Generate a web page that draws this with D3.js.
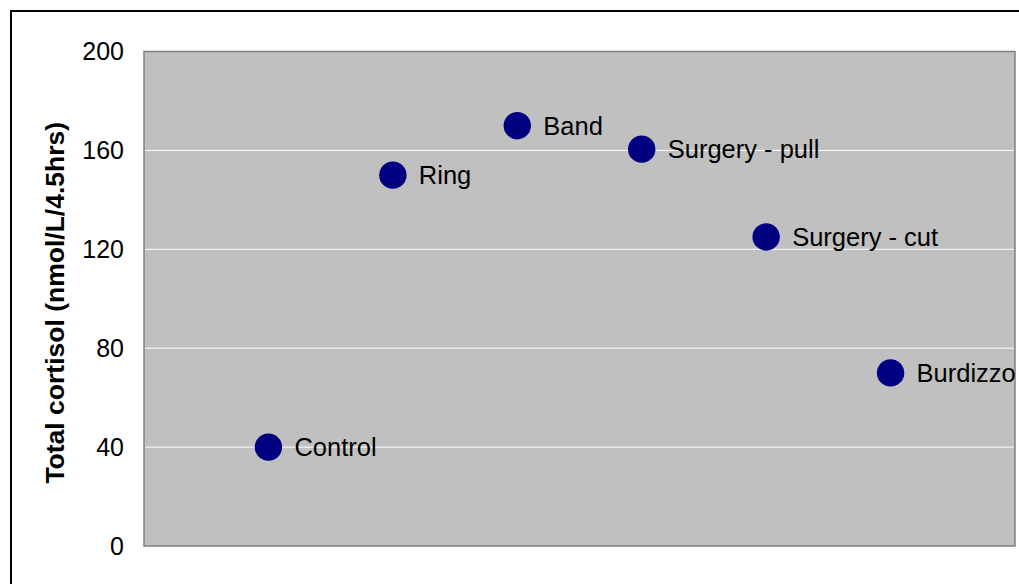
<!DOCTYPE html>
<html>
<head>
<meta charset="utf-8">
<script src="https://cdn.jsdelivr.net/npm/d3@7"></script>
<style>
  body { margin: 0; background: #fff; }
  svg { display: block; font-family: "Liberation Sans", Arial, sans-serif; }
</style>
</head>
<body>
<svg id="canvas" width="1019" height="584"></svg>
<script>
const groups = ['Control', 'Ring', 'Band', 'Surgery - pull', 'Surgery - cut', 'Burdizzo']
const cortisol = [40, 150, 170, 160.5, 125, 70]
const yTicks = [0, 40, 80, 120, 160, 200]

const svg = d3.select('#canvas')
const plotLeft = 144, plotRight = 1015, plotTop = 51.5, plotBottom = 546

// outer chart border
svg.append('rect')
    .attr('x', 11).attr('y', 11)
    .attr('width', 1030).attr('height', 600)
    .attr('fill', 'none')
    .attr('stroke', '#000')
    .attr('stroke-width', 2)

const x = d3.scaleLinear().domain([0, groups.length + 1]).range([plotLeft, plotRight])
const y = d3.scaleLinear().domain([0, 200]).range([plotBottom, plotTop])

svg.append('rect')
    .attr('x', plotLeft).attr('y', plotTop)
    .attr('width', plotRight - plotLeft).attr('height', plotBottom - plotTop)
    .attr('fill', '#c0c0c0')
    .attr('stroke', '#808080')
    .attr('stroke-width', 1.5)

// gridlines
svg.append('g').selectAll('line')
    .data(yTicks.filter(t => t > 0 && t < 200))
    .enter().append('line')
    .attr('x1', plotLeft + 1).attr('x2', plotRight - 1)
    .attr('y1', d => y(d)).attr('y2', d => y(d))
    .attr('stroke', '#fff')
    .attr('stroke-width', 1)

const yAxis = svg.append('g')
    .attr('transform', `translate(${plotLeft},0)`)
    .call(d3.axisLeft(y).tickValues(yTicks).tickSize(0).tickPadding(20))
yAxis.select('.domain').remove()
yAxis.selectAll('text')
    .attr('font-size', 25)
    .attr('font-family', '"Liberation Sans", Arial, sans-serif')
    .attr('fill', '#000')

svg.append('text')
    .attr('transform', `translate(64,${(plotTop + plotBottom) / 2 + 4}) rotate(-90)`)
    .attr('text-anchor', 'middle')
    .attr('font-size', 26.5)
    .attr('font-weight', 'bold')
    .text('Total cortisol (nmol/L/4.5hrs)')

const pts = svg.append('g').selectAll('g')
    .data(groups.map((g, i) => ({ name: g, v: cortisol[i], i: i + 1 })))
    .enter().append('g')
    .attr('transform', d => `translate(${x(d.i)},${y(d.v)})`)

pts.append('circle')
    .attr('r', 13.7)
    .attr('fill', '#000080')

pts.append('text')
    .attr('x', 26)
    .attr('dy', '0.35em')
    .attr('font-size', 25.5)
    .attr('fill', '#000')
    .text(d => d.name)
</script>
</body>
</html>
